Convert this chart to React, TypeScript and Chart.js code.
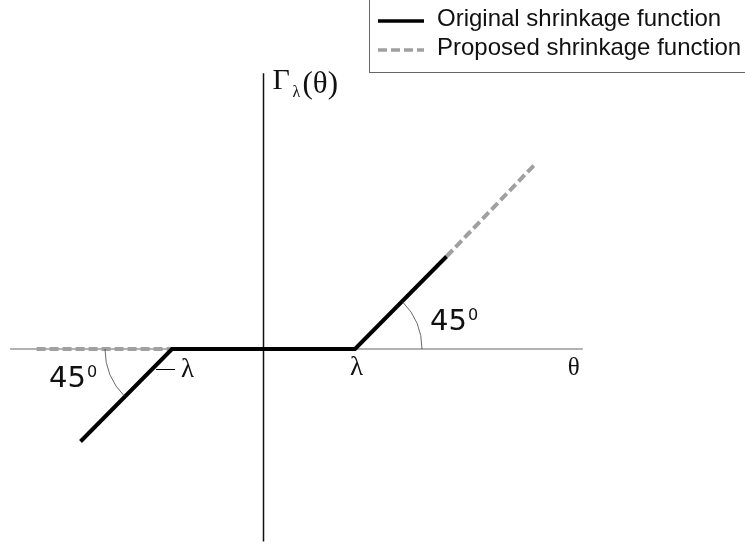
import React, { useEffect, useRef } from "react";
import { Chart, registerables } from "chart.js";

Chart.register(...registerables);

// Function breakpoints (in units of lambda)
const originalX = [-2.0, -1, 1, 2.0];
const originalY = [-1.0, 0, 0, 1.0];
const proposedX = [-2.48, -1, null, 2, 2.97];
const proposedY = [0, 0, null, 1, 2.0];
const axisHX = [-2.77, 3.49];
const axisVY = [-2.08, 2.98];
const seriesLabels = ["Original shrinkage function", "Proposed shrinkage function"];
const lambdaValue = 1;

const toPts = (xs: (number | null)[], ys: (number | null)[]) =>
  xs.map((x, i) => ({ x: x as number, y: ys[i] as number }));

const annotationPlugin = {
  id: "diagramAnnotations",
  afterDatasetsDraw(chart: any) {
    const ctx = chart.ctx as CanvasRenderingContext2D;
    const xs = chart.scales.x;
    const ys = chart.scales.y;
    const px = (v: number) => xs.getPixelForValue(v);
    const py = (v: number) => ys.getPixelForValue(v);
    ctx.save();

    // angle arcs
    ctx.strokeStyle = "#444";
    ctx.lineWidth = 0.8;
    const r = 67;
    ctx.beginPath();
    ctx.arc(px(lambdaValue), py(0), r, -Math.PI / 4, 0);
    ctx.stroke();
    ctx.beginPath();
    ctx.arc(px(-lambdaValue), py(0), r, Math.PI * 0.75, Math.PI);
    ctx.stroke();

    // minus sign for -lambda
    ctx.beginPath();
    ctx.lineWidth = 1;
    ctx.strokeStyle = "#000";
    ctx.moveTo(px(-lambdaValue) - 16, py(0) + 20.5);
    ctx.lineTo(px(-lambdaValue) + 3, py(0) + 20.5);
    ctx.stroke();

    ctx.fillStyle = "#111";
    ctx.textBaseline = "alphabetic";
    ctx.textAlign = "left";
    // 45 degree labels
    const deg = (x: number, y: number) => {
      ctx.font = "29px 'DejaVu Sans'";
      ctx.fillText("45", x, y);
      const w = ctx.measureText("45").width;
      ctx.font = "16px 'DejaVu Sans'";
      ctx.fillText("0", x + w + 1, y - 10);
    };
    deg(px(lambdaValue) + 75, py(0) - 19);
    deg(px(-lambdaValue) - 123, py(0) + 38);

    // lambda labels
    ctx.font = "27px 'Liberation Serif'";
    ctx.fillText("λ", px(lambdaValue) - 5, py(0) + 26);
    ctx.fillText("λ", px(-lambdaValue) + 9, py(0) + 28);
    // theta
    ctx.font = "25px 'Liberation Serif'";
    ctx.fillText("θ", px(3.49) - 15, py(0) + 26);
    // Gamma_lambda(theta)
    const gx = px(0) + 9;
    const gy = py(2.98) + 16;
    ctx.font = "30px 'Liberation Serif'";
    ctx.fillText("Γ", gx, gy);
    ctx.font = "16px 'Liberation Serif'";
    ctx.fillText("λ", gx + 20, gy + 8);
    ctx.font = "31px 'Liberation Serif'";
    ctx.fillText("(θ)", gx + 30, gy + 4);

    // legend
    ctx.strokeStyle = "#666";
    ctx.lineWidth = 1;
    ctx.fillStyle = "#fff";
    ctx.fillRect(369.5, -2, 400, 74.5);
    ctx.strokeRect(369.5, -2, 400, 74.5);
    const legendDs = chart.data.datasets.filter((d: any) => seriesLabels.includes(d.label));
    legendDs
      .sort((a: any, b: any) => seriesLabels.indexOf(a.label) - seriesLabels.indexOf(b.label))
      .forEach((d: any, i: number) => {
        const y = 21 + i * 29;
        ctx.beginPath();
        ctx.strokeStyle = d.borderColor;
        ctx.lineWidth = 3.5;
        ctx.setLineDash(d.borderDash || []);
        ctx.moveTo(378, y);
        ctx.lineTo(424, y);
        ctx.stroke();
        ctx.setLineDash([]);
        ctx.fillStyle = "#111";
        ctx.font = "24px 'Liberation Sans'";
        ctx.textBaseline = "middle";
        ctx.fillText(d.label, 437, y - 2);
      });
    ctx.restore();
  },
};

export default function App() {
  const ref = useRef<HTMLCanvasElement>(null);
  useEffect(() => {
    if (!ref.current) return;
    const chart = new Chart(ref.current, {
      type: "scatter",
      data: {
        datasets: [
          {
            label: "axis-h",
            data: toPts(axisHX, [0, 0]),
            showLine: true,
            borderColor: "#666",
            borderWidth: 1.2,
            pointRadius: 0,
            order: 4,
          },
          {
            label: "axis-v",
            data: toPts([0, 0], axisVY),
            showLine: true,
            borderColor: "#111",
            borderWidth: 1.5,
            pointRadius: 0,
            order: 3,
          },
          {
            label: seriesLabels[1],
            data: toPts(proposedX, proposedY),
            showLine: true,
            spanGaps: false,
            borderColor: "#a0a0a0",
            borderWidth: 4,
            borderDash: [9, 4],
            pointRadius: 0,
            order: 2,
          },
          {
            label: seriesLabels[0],
            data: toPts(originalX, originalY),
            showLine: true,
            borderColor: "#000",
            borderWidth: 4,
            pointRadius: 0,
            order: 1,
          },
        ],
      },
      options: {
        animation: false,
        responsive: true,
        maintainAspectRatio: false,
        layout: { padding: 0 },
        plugins: { legend: { display: false }, tooltip: { enabled: false } },
        scales: {
          x: { type: "linear", display: false, min: -263.5 / 91.5, max: (745 - 263.5) / 91.5 },
          y: { type: "linear", display: false, min: -(544 - 349) / 92.5, max: 349 / 92.5 },
        },
      },
      plugins: [annotationPlugin],
    });
    return () => chart.destroy();
  }, []);
  return (
    <div style={{ position: "fixed", left: 0, top: 0, width: 745, height: 544, background: "#fff" }}>
      <canvas ref={ref} />
    </div>
  );
}
